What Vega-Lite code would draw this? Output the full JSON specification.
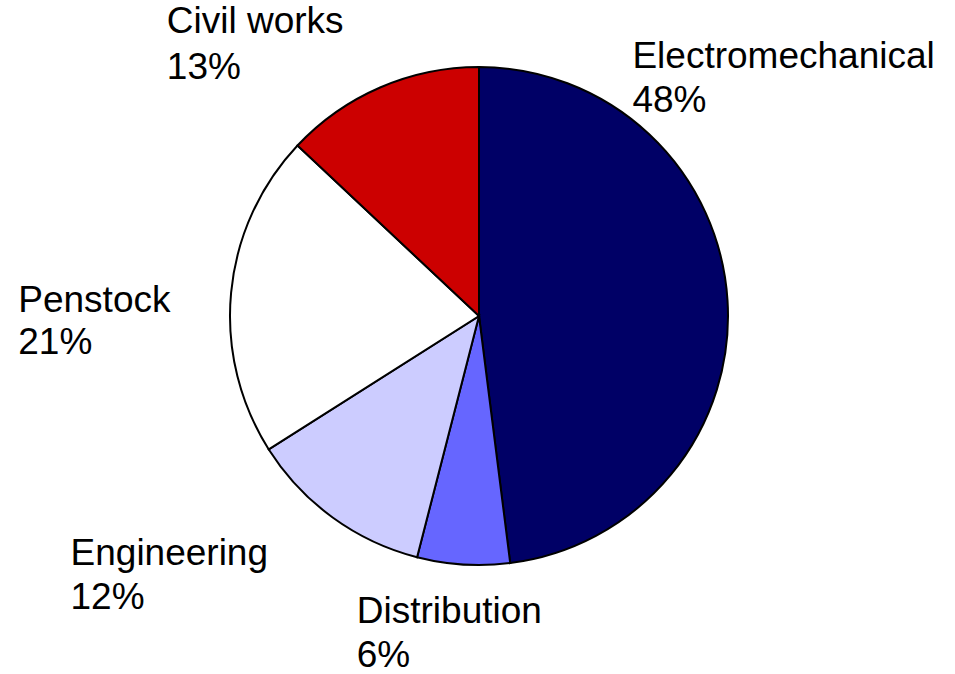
{
  "$schema": "https://vega.github.io/schema/vega-lite/v6.json",
  "width": 952,
  "height": 632,
  "autosize": {"type": "none"},
  "padding": {"left": 3, "top": 0, "right": 0, "bottom": 42},
  "background": "white",
  "config": {"view": {"stroke": null}},
  "data": {
    "values": [
      {"category": "Electromechanical", "share": 48, "rank": 1, "label": ["Electromechanical", "48%"]},
      {"category": "Distribution", "share": 6, "rank": 2, "label": ["Distribution", "6%"]},
      {"category": "Engineering", "share": 12, "rank": 3, "label": ["Engineering", "12%"]},
      {"category": "Penstock", "share": 21, "rank": 4, "label": ["Penstock", "21%"]},
      {"category": "Civil works", "share": 13, "rank": 5, "label": ["Civil works", "13%"]}
    ]
  },
  "encoding": {
    "theta": {"field": "share", "type": "quantitative", "stack": true},
    "order": {"field": "rank", "type": "quantitative"}
  },
  "layer": [
    {
      "mark": {"type": "arc", "outerRadius": 249, "stroke": "black", "strokeWidth": 2},
      "encoding": {
        "color": {
          "field": "category",
          "type": "nominal",
          "scale": {
            "domain": ["Electromechanical", "Distribution", "Engineering", "Penstock", "Civil works"],
            "range": ["#000066", "#6666FF", "#CCCCFF", "#FFFFFF", "#CC0000"]
          },
          "legend": null
        }
      }
    },
    {
      "mark": {"type": "text", "radius": 290, "align": "left", "baseline": "alphabetic", "font": "Liberation Sans", "fontSize": 37, "lineHeight": 44, "color": "black", "dx": -136, "dy": -230},
      "encoding": {"text": {"condition": {"test": "datum.category === 'Electromechanical'", "field": "label"}, "value": ""}}
    },
    {
      "mark": {"type": "text", "radius": 290, "align": "left", "baseline": "alphabetic", "font": "Liberation Sans", "fontSize": 37, "lineHeight": 44, "color": "black", "dx": -104, "dy": 18},
      "encoding": {"text": {"condition": {"test": "datum.category === 'Distribution'", "field": "label"}, "value": ""}}
    },
    {
      "mark": {"type": "text", "radius": 290, "align": "left", "baseline": "alphabetic", "font": "Liberation Sans", "fontSize": 37, "lineHeight": 44, "color": "black", "dx": -238, "dy": 14},
      "encoding": {"text": {"condition": {"test": "datum.category === 'Engineering'", "field": "label"}, "value": ""}}
    },
    {
      "mark": {"type": "text", "radius": 290, "align": "left", "baseline": "alphabetic", "font": "Liberation Sans", "fontSize": 37, "lineHeight": 42, "color": "black", "dx": -172, "dy": 23},
      "encoding": {"text": {"condition": {"test": "datum.category === 'Penstock'", "field": "label"}, "value": ""}}
    },
    {
      "mark": {"type": "text", "radius": 290, "align": "left", "baseline": "alphabetic", "font": "Liberation Sans", "fontSize": 37, "lineHeight": 46, "color": "black", "dx": -197, "dy": -17},
      "encoding": {"text": {"condition": {"test": "datum.category === 'Civil works'", "field": "label"}, "value": ""}}
    }
  ]
}
